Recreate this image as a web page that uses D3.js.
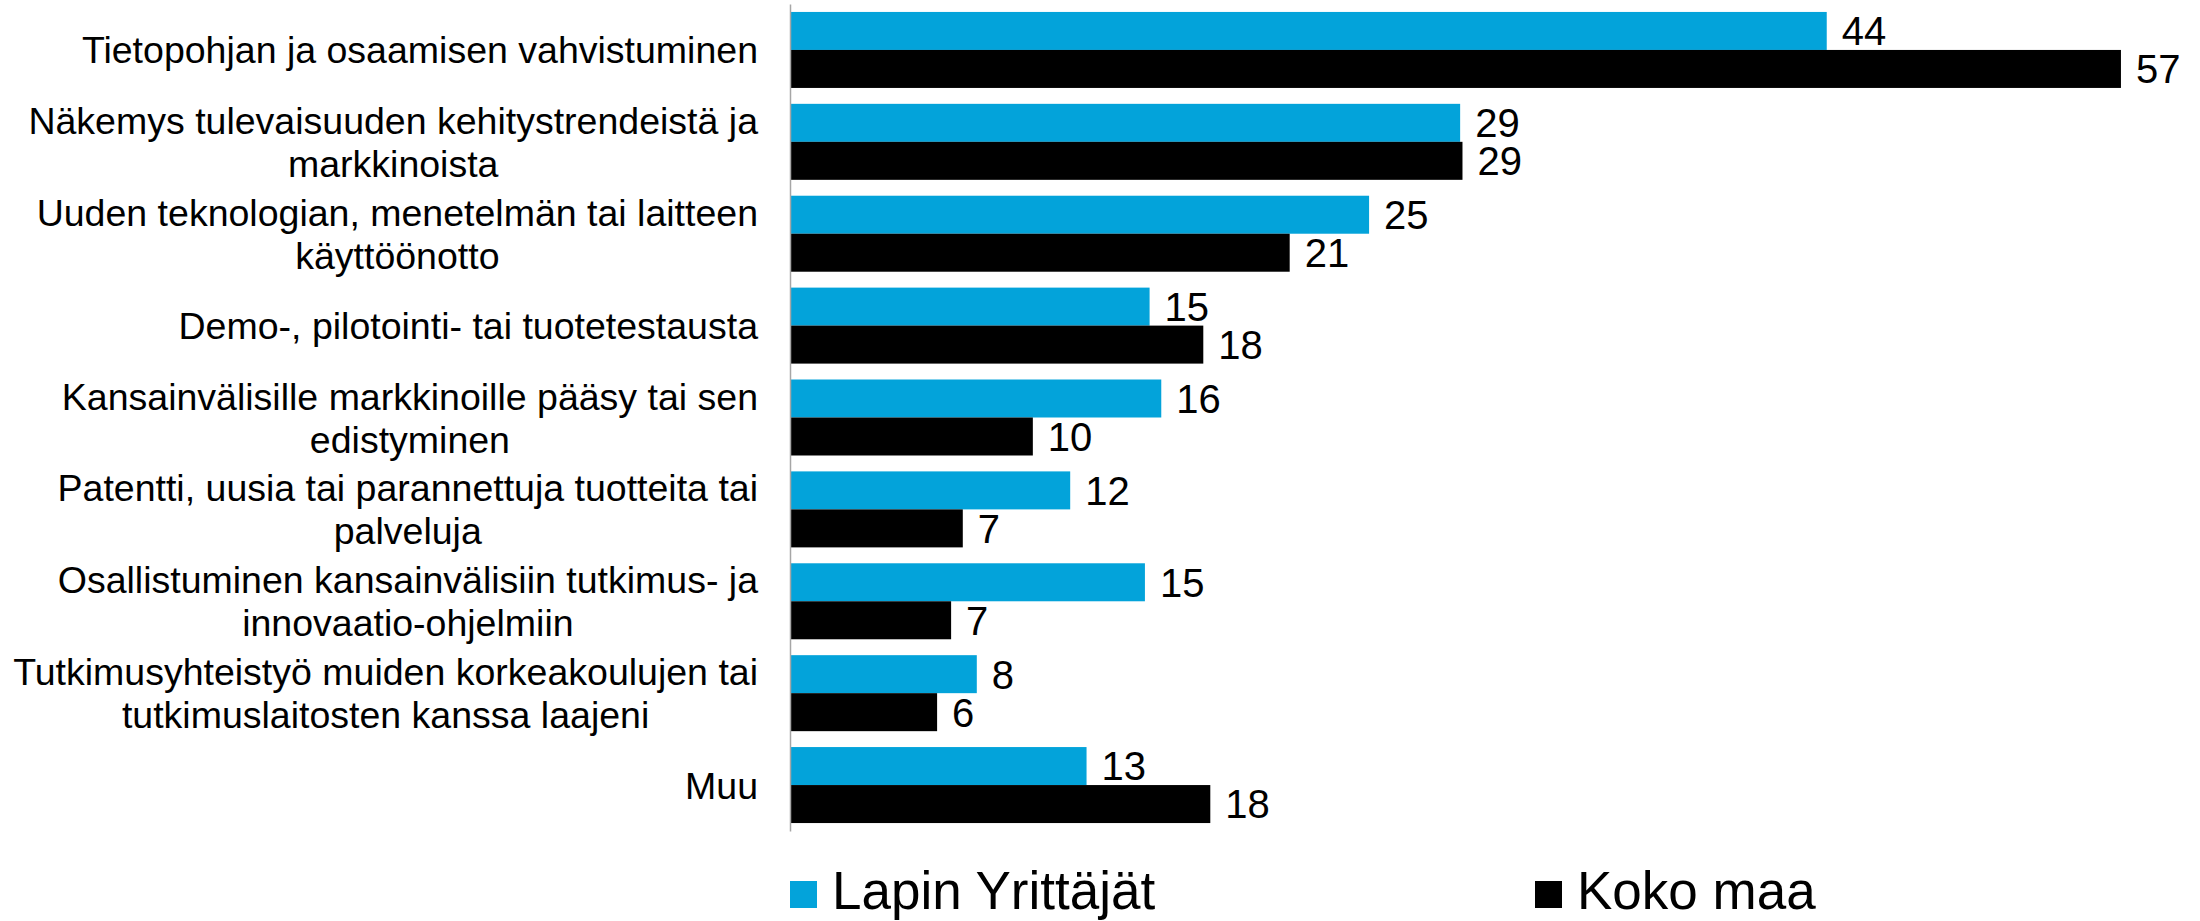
<!DOCTYPE html>
<html>
<head>
<meta charset="utf-8">
<script src="https://cdn.jsdelivr.net/npm/d3@7"></script>
<style>
    html, body { margin: 0; padding: 0; background: #fff; }
    svg text { font-family: "Liberation Sans", Arial, sans-serif; fill: #000; }
</style>
</head>
<body>
<div id="chart"></div>
<script>
// Chart data
const categories = [
    "Tietopohjan ja osaamisen vahvistuminen",
    "Näkemys tulevaisuuden kehitystrendeistä ja\nmarkkinoista",
    "Uuden teknologian, menetelmän tai laitteen\nkäyttöönotto",
    "Demo-, pilotointi- tai tuotetestausta",
    "Kansainvälisille markkinoille pääsy tai sen\nedistyminen",
    "Patentti, uusia tai parannettuja tuotteita tai\npalveluja",
    "Osallistuminen kansainvälisiin tutkimus- ja\ninnovaatio-ohjelmiin",
    "Tutkimusyhteistyö muiden korkeakoulujen tai\ntutkimuslaitosten kanssa laajeni",
    "Muu"
];
const seriesNames = ["Lapin Yrittäjät", "Koko maa"];
const lapinValues = [44.4, 28.7, 24.8, 15.4, 15.9, 12.0, 15.2, 8.0, 12.7];
const kokoMaaValues = [57.0, 28.8, 21.4, 17.7, 10.4, 7.4, 6.9, 6.3, 18.0];
const seriesColors = ["#03a3da", "#000000"];
const xDomain = [0, 60];

const width = 2200, height = 921;
const axisX = 790;

const svg = d3.select("#chart").append("svg")
    .attr("width", width)
    .attr("height", height);

const x = d3.scaleLinear()
    .domain(xDomain)
    .range([axisX, axisX + 60 * 23.35]);

const y = d3.scaleBand()
    .domain(categories)
    .range([4, 831])
    .paddingInner(0.173)
    .paddingOuter(0.0865);

const ySub = d3.scaleBand()
    .domain(seriesNames)
    .range([0, y.bandwidth()]);

const rows = categories.map((c, i) => ({
    category: c,
    values: [lapinValues[i], kokoMaaValues[i]]
}));

// Bars
const groups = svg.selectAll(".group")
    .data(rows)
    .enter()
    .append("g")
    .attr("class", "group")
    .attr("transform", d => `translate(0,${y(d.category)})`);

groups.selectAll("rect")
    .data(d => d.values.map((v, j) => ({ series: seriesNames[j], value: v, idx: j })))
    .enter()
    .append("rect")
    .attr("x", x(0))
    .attr("y", d => ySub(d.series))
    .attr("width", d => x(d.value) - x(0))
    .attr("height", ySub.bandwidth())
    .style("fill", d => seriesColors[d.idx]);

// Value labels
groups.selectAll(".value")
    .data(d => d.values.map((v, j) => ({ series: seriesNames[j], value: v })))
    .enter()
    .append("text")
    .attr("class", "value")
    .attr("x", d => x(d.value) + 15)
    .attr("y", d => ySub(d.series) + ySub.bandwidth() / 2)
    .attr("dy", "0.36em")
    .style("font-size", "40px")
    .text(d => Math.round(d.value));

// Vertical axis line
svg.append("g")
    .attr("transform", `translate(${axisX},0)`)
    .call(d3.axisLeft(y).tickSize(0).tickFormat(""))
    .call(g => g.select(".domain").attr("stroke", "#a6a6a6").attr("stroke-width", 1.5));

// Category labels: multi-line blocks, lines centred, block right-aligned
const labelRight = 758;
const lineHeight = 43;
categories.forEach(c => {
    const lines = c.split("\n");
    const cy = y(c) + y.bandwidth() / 2;
    const t = svg.append("text")
        .attr("text-anchor", "middle")
        .style("font-size", "37.5px");
    lines.forEach((line, k) => {
        t.append("tspan")
            .attr("y", cy + (k - (lines.length - 1) / 2) * lineHeight)
            .attr("dy", "0.36em")
            .text(line);
    });
    let maxW = 0;
    t.selectAll("tspan").each(function () {
        maxW = Math.max(maxW, this.getComputedTextLength());
    });
    t.selectAll("tspan").attr("x", labelRight - maxW / 2);
});

// Legend
const legendX = [790, 1535];
const legend = svg.selectAll(".legend")
    .data(seriesNames)
    .enter()
    .append("g")
    .attr("class", "legend")
    .attr("transform", (d, i) => `translate(${legendX[i]},881)`);

legend.append("rect")
    .attr("width", 27)
    .attr("height", 27)
    .style("fill", (d, i) => seriesColors[i]);

legend.append("text")
    .attr("x", 42)
    .attr("y", 28)
    .style("font-size", "53px")
    .text(d => d);
</script>
</body>
</html>
